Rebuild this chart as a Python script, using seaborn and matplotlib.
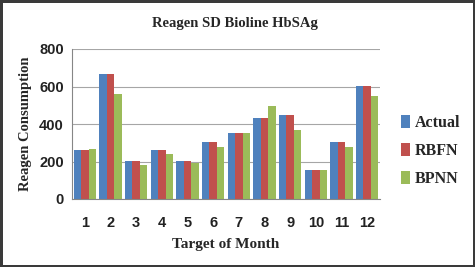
import numpy as np
import pandas as pd
import matplotlib
matplotlib.use("Agg")
import matplotlib.pyplot as plt
import seaborn as sns

months = [str(m) for m in range(1, 13)]
actual = [260, 668, 201, 260, 201, 302, 352, 432, 450, 153, 302, 601]
rbfn = [260, 668, 201, 260, 201, 302, 352, 432, 450, 153, 302, 601]
bpnn = [268, 562, 183, 242, 192, 276, 352, 498, 370, 153, 279, 551]
series = ["Actual", "RBFN", "BPNN"]
colors = ["#4F81BD", "#C0504D", "#9BBB59"]

df = pd.DataFrame({
    "month": months * 3,
    "value": actual + rbfn + bpnn,
    "series": [s for s in series for _ in months],
})

sns.set_style("white")
serif = ["Liberation Serif", "DejaVu Serif"]
sans = ["Liberation Sans", "DejaVu Sans"]

fig = plt.figure(figsize=(4.75, 2.67), dpi=100, edgecolor="#3a3a3a", linewidth=3.5)
ax = fig.add_axes([72 / 475, 1 - 199 / 267, 308 / 475, 150 / 267])

sns.barplot(data=df, x="month", y="value", hue="series", palette=colors,
            width=0.88, gap=0, saturation=1, linewidth=0, ax=ax, legend=True)

ax.set_ylim(0, 800)
ax.set_yticks([0, 200, 400, 600, 800])
ax.yaxis.grid(True, color="#a6a6a6", linewidth=0.8)
ax.set_axisbelow(True)
for s in ["top", "right"]:
    ax.spines[s].set_visible(False)
ax.spines["left"].set_color("#868686")
ax.spines["bottom"].set_color("#868686")
ax.tick_params(axis="y", length=3, color="#868686", pad=3)
ax.tick_params(axis="x", length=0, pad=12)
for lbl in ax.get_xticklabels() + ax.get_yticklabels():
    lbl.set_family(sans)
    lbl.set_fontsize(10.5)
    lbl.set_fontweight("bold")
    lbl.set_color("#222222")

ax.set_xlabel("Target of Month", family=serif, fontsize=11, fontweight="bold", labelpad=6)
ax.set_ylabel("Reagen Consumption", family=serif, fontsize=10.5, fontweight="bold", labelpad=5)
fig.text(235 / 475, 1 - 24 / 267, "Reagen SD Bioline HbSAg", ha="center", va="center",
         family=serif, fontsize=10.5, fontweight="bold")

leg = ax.legend(loc="center left", bbox_to_anchor=(1.02, 0.32), frameon=False,
                handlelength=0.6, handleheight=0.8, handletextpad=0.3, labelspacing=0.75,
                prop={"family": serif, "size": 11.5, "weight": "bold"})

fig.savefig("out.png", dpi=100)
